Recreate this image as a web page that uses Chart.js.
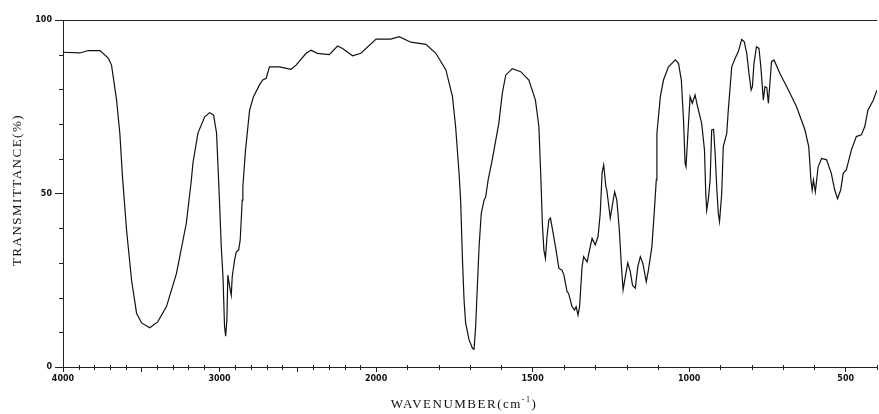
<!DOCTYPE html>
<html>
<head>
<meta charset="utf-8">
<script src="https://cdn.jsdelivr.net/npm/chart.js@4.4.1/dist/chart.umd.min.js"></script>
<style>
  body { margin: 0; background: #fff; }
  #wrap { width: 879px; height: 414px; position: relative; }
</style>
</head>
<body>
<div id="wrap"><canvas id="spectrum"></canvas></div>
<script>
// IR spectrum, wavenumber (cm-1) vs transmittance (%)
const wavenumber = [
  4000,3892,3839,3764,3711,3690,3658,3637,3620,3594,
  3562,3530,3498,3446,3395,3339,3275,3212,3180,3170,
  3138,3095,3063,3038,3019,3006,3000,2989,2978,2968,
  2961,2953,2947,2936,2925,2919,2904,2893,2878,2868,
  2855,2851,2834,2808,2783,2745,2724,2702,2681,2617,
  2543,2511,2447,2415,2375,2299,2246,2214,2150,2097,
  2000,1953,1926,1889,1841,1809,1777,1756,1746,1735,
  1730,1724,1719,1714,1703,1692,1687,1682,1677,1671,
  1664,1655,1650,1642,1629,1608,1597,1586,1565,1538,
  1512,1491,1480,1475,1472,1469,1464,1459,1454,1448,
  1443,1438,1427,1416,1406,1400,1390,1385,1374,1366,
  1361,1355,1350,1342,1337,1326,1316,1310,1300,1291,
  1284,1278,1273,1266,1263,1252,1246,1238,1231,1223,
  1217,1211,1204,1196,1188,1181,1172,1164,1156,1148,
  1137,1130,1119,1111,1105,1103,1092,1082,1066,1044,
  1034,1025,1018,1013,1010,1004,997,990,981,973,
  960,951,947,944,939,933,928,922,917,912,
  907,903,896,891,880,875,869,864,853,843,
  832,824,816,809,802,798,793,785,777,771,
  763,758,752,747,742,737,729,710,683,657,
  630,618,611,607,603,597,588,577,561,546,
  535,526,516,508,498,482,466,450,439,429,
  412,400
];
const transmittance = [
  90.7,90.5,91.2,91.2,89,87,77,67.4,54.8,39.5,
  25,15.5,12.7,11.3,13,17.4,27,41.5,53.9,58.8,
  67.4,72.1,73.3,72.6,67.4,53.9,47.3,34.7,26,11.6,
  8.9,13.5,26.5,23.3,20.7,26,30.8,33.2,33.7,36.6,
  48.1,52,62.5,74,77.9,81.3,82.7,83.2,86.5,86.5,
  85.8,87,90.4,91.3,90.4,90,92.5,91.8,89.7,90.4,
  94.5,94.5,95.2,93.6,93,90.4,85.6,77.9,69.3,55.9,
  48.1,30.8,19.3,12.7,7.8,5.4,5.1,11.6,22.2,34.7,
  44.3,48.1,49,53.9,59.7,70.2,78.8,84.1,86,85.1,
  82.7,76.9,69.3,57.7,50,41.5,33.7,31.3,37.6,42.4,
  42.9,40.4,34.7,28.4,27.9,26.5,21.7,21.2,17.4,16.4,
  17.4,15,17.4,28.9,31.8,30.3,34.7,37.1,35.2,37.6,
  44.3,56,58.2,52,51,42.9,46.2,50.5,48.1,39.5,
  29.9,22.2,26,30,27.5,23.6,22.7,28.9,31.8,29.9,
  24.6,28,34.7,45.2,53.9,67.3,77.9,82.7,86.5,88.5,
  87.5,82.7,71.2,58.7,57.7,67.3,77.9,76,78.4,75,
  70.2,62.5,50.1,45.2,48.1,53.9,68.3,68.5,61.6,52,
  44.3,41.9,50,63.5,67.3,74,80.8,86.5,89,90.9,
  94.4,93.7,90.4,84.6,79.8,80.8,87.5,92.3,91.8,86.5,
  76.9,80.8,80.5,76,81.8,88,88.5,84.6,79.8,75,
  68.3,63.5,53.9,51,53.9,50.5,57.7,60.1,59.7,55.8,
  51,48.5,51,55.8,56.8,62.5,66.4,66.9,69.3,74,
  76.9,79.8
];
const xTickLabels = [4000, 3000, 2000, 1500, 1000, 500];
const yTickLabels = [0, 50, 100];

// wavenumber axis: 4000-2000 at single scale, 2000-400 at double scale
const LinearScale = Chart.LinearScale || Chart.registry.getScale('linear');
class WavenumberScale extends LinearScale {
  toUnits(v) {
    return v >= 2000 ? 4000 - v : 2000 + (2000 - v) * 2;
  }
  buildTicks() {
    const ticks = [];
    for (let w = 4000; w >= 400; w -= 100) ticks.push({ value: w });
    return ticks;
  }
  getPixelForValue(value) {
    return this.getPixelForDecimal(this.toUnits(value) / 5200);
  }
  getValueForPixel(pixel) {
    const u = this.getDecimalForPixel(pixel) * 5200;
    return u <= 2000 ? 4000 - u : 2000 - (u - 2000) / 2;
  }
}
WavenumberScale.id = 'wavenumber';
WavenumberScale.defaults = LinearScale.defaults;
Chart.register(WavenumberScale);

const points = wavenumber.map((w, i) => ({ x: w, y: transmittance[i] }));

// top frame line, short minor ticks and the axis titles
const frame = {
  id: 'frame',
  afterDraw(chart) {
    const { ctx, chartArea } = chart;
    const xs = chart.scales.x, ys = chart.scales.y;
    ctx.save();
    ctx.strokeStyle = '#222';
    ctx.lineWidth = 1;
    ctx.beginPath();
    ctx.moveTo(chartArea.left, chartArea.top + 0.5);
    ctx.lineTo(chartArea.right, chartArea.top + 0.5);

    xs.ticks.forEach(t => {
      if (t.value % 500 === 0) return;
      const px = Math.round(xs.getPixelForValue(t.value)) + 0.5;
      ctx.moveTo(px, chartArea.bottom - 2);
      ctx.lineTo(px, chartArea.bottom + 3);
    });
    ys.ticks.forEach(t => {
      if (yTickLabels.includes(t.value)) return;
      const py = Math.round(ys.getPixelForValue(t.value)) + 0.5;
      ctx.moveTo(chartArea.left - 4, py);
      ctx.lineTo(chartArea.left, py);
    });
    ctx.stroke();

    ctx.fillStyle = '#111';
    ctx.textBaseline = 'middle';

    // x title with superscript
    ctx.font = '13px "Liberation Serif"';
    ctx.letterSpacing = '1.5px';
    const main = 'WAVENUMBER(cm';
    const tail = ')';
    const wMain = ctx.measureText(main).width;
    const wTail = ctx.measureText(tail).width;
    ctx.font = '8px "Liberation Serif"';
    const wSup = ctx.measureText('-1').width;
    let x = (chartArea.left + chartArea.right) / 2 - 6 - (wMain + wSup + wTail) / 2;
    const y = 405;
    ctx.textAlign = 'left';
    ctx.font = '13px "Liberation Serif"';
    ctx.fillText(main, x, y);
    x += wMain;
    ctx.font = '8px "Liberation Serif"';
    ctx.fillText('-1', x, y - 5);
    x += wSup;
    ctx.font = '13px "Liberation Serif"';
    ctx.fillText(tail, x, y);

    // y title
    ctx.translate(18, 190);
    ctx.rotate(-Math.PI / 2);
    ctx.textAlign = 'center';
    ctx.font = '13px "Liberation Serif"';
    ctx.letterSpacing = '1.5px';
    ctx.fillText('TRANSMITTANCE(%)', 0, 0);
    ctx.restore();
  }
};

new Chart(document.getElementById('spectrum'), {
  type: 'line',
  data: {
    datasets: [{
      data: points,
      borderColor: '#111',
      borderWidth: 1.2,
      pointRadius: 0,
      tension: 0,
      fill: false
    }]
  },
  options: {
    responsive: true,
    maintainAspectRatio: false,
    animation: false,
    layout: { padding: { top: 20, right: 0, left: 0, bottom: 0 } },
    plugins: {
      legend: { display: false },
      tooltip: { enabled: false }
    },
    scales: {
      x: {
        type: 'wavenumber',
        min: 400,
        max: 4000,
        afterFit(scale) { scale.height = 47; },
        border: { color: '#222', width: 1 },
        grid: {
          drawOnChartArea: false,
          tickLength: 5,
          tickColor: c => (c.tick && c.tick.value % 500 === 0) ? '#222' : 'transparent'
        },
        ticks: {
          autoSkip: false,
          maxRotation: 0,
          padding: 2,
          color: '#111',
          font: { family: 'DejaVu Sans', size: 8, weight: 'bold' },
          callback: v => xTickLabels.includes(v) ? String(v) : ''
        }
      },
      y: {
        min: 0,
        max: 100,
        afterFit(scale) { scale.width = 63; },
        border: { color: '#222', width: 1 },
        grid: {
          drawOnChartArea: false,
          tickLength: 8,
          tickColor: c => (c.tick && yTickLabels.includes(c.tick.value)) ? '#222' : 'transparent'
        },
        ticks: {
          stepSize: 10,
          autoSkip: false,
          padding: 3,
          color: '#111',
          font: { family: 'DejaVu Sans', size: 8, weight: 'bold' },
          callback: v => yTickLabels.includes(v) ? String(v) : ''
        }
      }
    }
  },
  plugins: [frame]
});
</script>
</body>
</html>
